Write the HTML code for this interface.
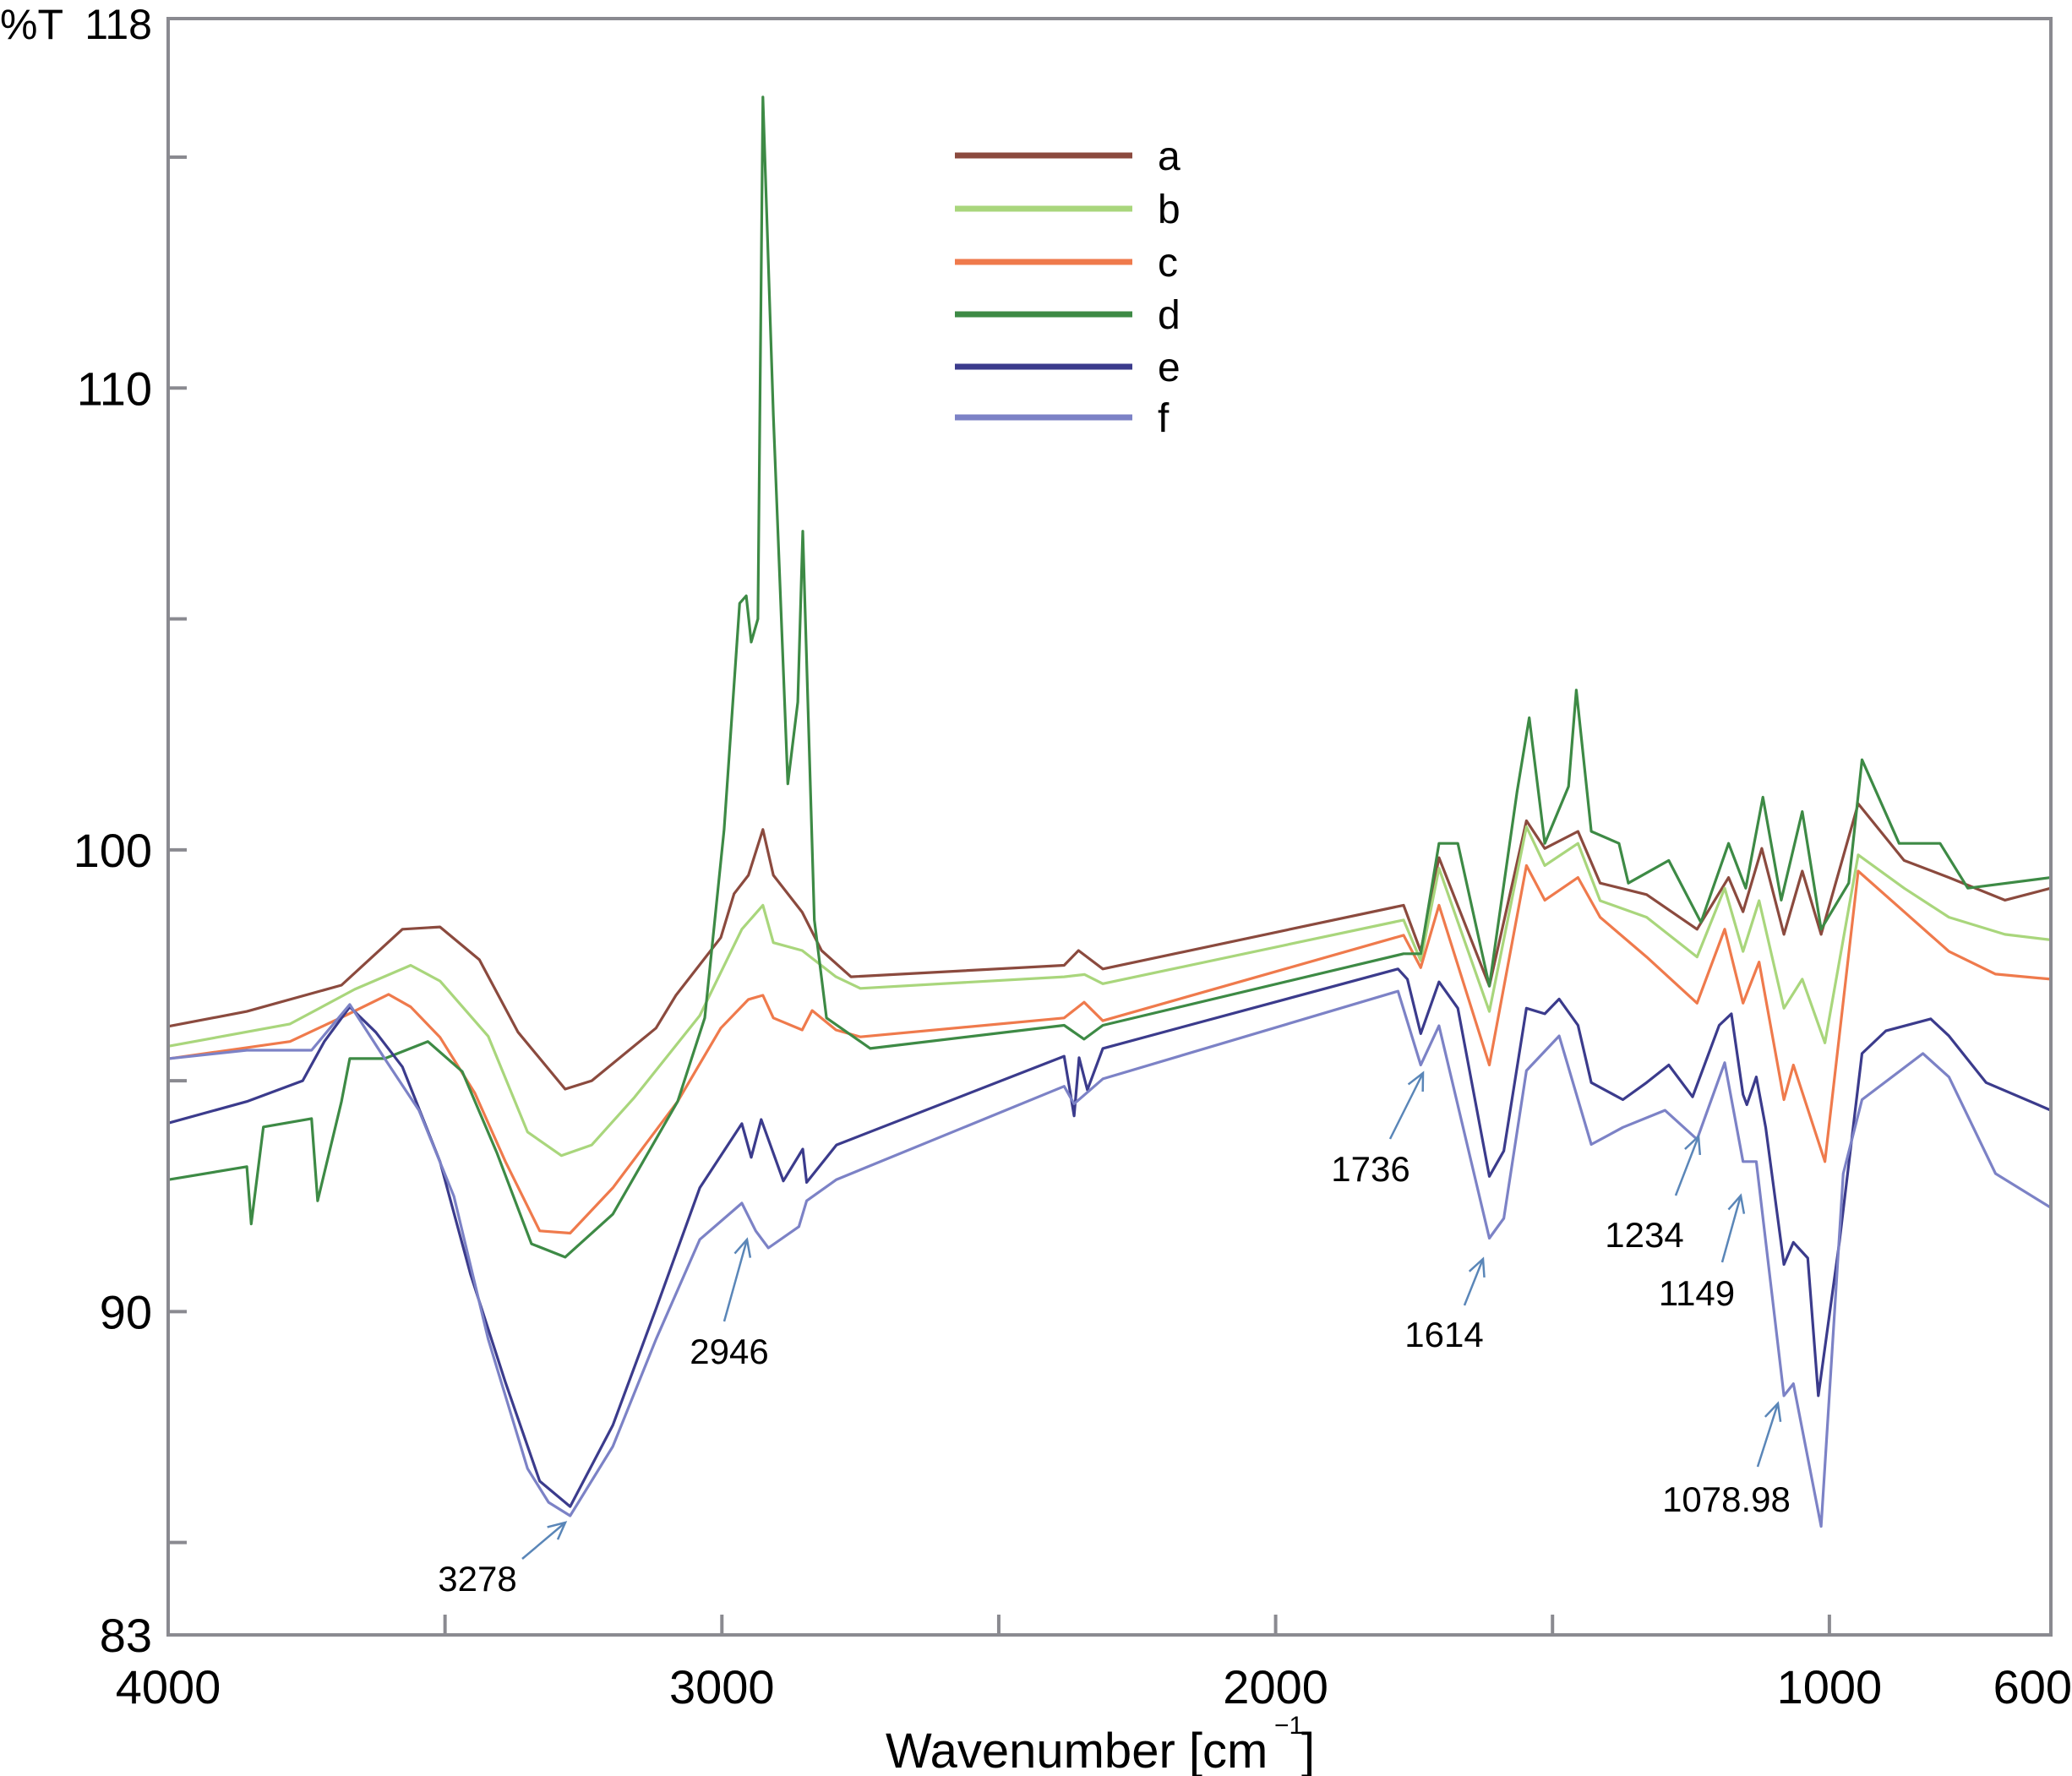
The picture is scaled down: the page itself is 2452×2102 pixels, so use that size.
<!DOCTYPE html>
<html>
<head>
<meta charset="utf-8">
<style>
  html,body{margin:0;padding:0;background:#fff;}
  svg{display:block;}
  text{font-family:"Liberation Sans",Arial,sans-serif;fill:#000;}
</style>
</head>
<body>
<svg id="chart" width="2452" height="2102" viewBox="0 0 2452 2102" xmlns="http://www.w3.org/2000/svg">
  <rect x="0" y="0" width="2452" height="2102" fill="#fff"/>
  <g id="series"></g>
  <g id="annotations"></g>
  <rect x="199" y="22" width="2228" height="1913" fill="none" stroke="#8a8a90" stroke-width="4"/>
  <g id="ticks"></g>
  <g id="ticklabels"></g>
  <text x="0" y="46" font-size="50">%T</text>
  <text x="1048" y="2092" font-size="58">Wavenumber [cm</text>
  <text x="1508" y="2052" font-size="30">−1</text>
  <text x="1540" y="2092" font-size="58">]</text>
  <g id="legend"></g>
</svg>
<script>
// ---- data (wavenumber, %T) ----
const aWn=[3998,3858,3687,3577,3509,3438,3368,3283,3235,3119,3083,3002,2978,2952,2926,2907,2855,2820,2767,2382,2356,2312,1769,1738,1705,1614,1547,1514,1454,1414,1330,1239,1182,1156,1122,1082,1049,1015,948,865,784,683,600];
const aT=[96.18,96.5,97.07,98.28,98.33,97.62,96.05,94.82,95.0,96.14,96.85,98.1,99.05,99.45,100.44,99.45,98.65,97.82,97.25,97.5,97.82,97.42,98.8,97.8,99.83,97.05,100.63,100.03,100.4,99.28,99.03,98.28,99.4,98.66,100.03,98.17,99.54,98.17,101.0,99.77,99.4,98.91,99.17];
const bWn=[3998,3780,3663,3562,3509,3422,3351,3290,3235,3158,3040,2964,2926,2907,2855,2794,2750,2382,2345,2312,1769,1738,1705,1614,1547,1514,1454,1414,1330,1239,1189,1156,1127,1082,1049,1008,948,865,784,683,600];
const bT=[95.75,96.23,96.98,97.5,97.16,95.96,93.89,93.38,93.61,94.64,96.41,98.28,98.8,97.99,97.82,97.25,97.0,97.25,97.3,97.1,98.48,97.6,99.6,96.5,100.5,99.66,100.14,98.9,98.54,97.68,99.17,97.8,98.9,96.57,97.2,95.82,99.89,99.17,98.54,98.17,98.05];
const cWn=[3998,3780,3680,3602,3562,3509,3446,3391,3329,3274,3197,3080,3002,2952,2926,2907,2855,2837,2794,2750,2382,2346,2312,1769,1738,1705,1614,1547,1514,1454,1414,1330,1239,1189,1156,1127,1082,1065,1008,948,865,784,700,600];
const cT=[95.48,95.85,96.41,96.87,96.6,95.94,94.73,93.25,91.75,91.7,92.68,94.55,96.14,96.76,96.85,96.36,96.1,96.52,96.1,95.95,96.36,96.7,96.3,98.15,97.45,98.8,95.34,99.66,98.91,99.4,98.54,97.68,96.68,98.28,96.68,97.57,94.59,95.34,93.25,99.54,98.66,97.8,97.31,97.2];
const dWn=[3998,3858,3850,3828,3741,3730,3687,3672,3609,3531,3469,3406,3344,3283,3197,3080,3031,2996,2968,2956,2947,2935,2926,2907,2881,2863,2854,2833,2811,2732,2382,2346,2312,1769,1738,1705,1671,1614,1564,1542,1514,1471,1457,1430,1380,1363,1290,1232,1182,1151,1120,1087,1049,1015,965,941,874,800,750,600];
const dT=[92.86,93.14,91.9,94.0,94.18,92.4,94.55,95.48,95.48,95.85,95.2,93.43,91.47,91.18,92.11,94.55,96.36,100.44,105.34,105.5,104.5,105.0,116.3,109.4,101.43,103.2,106.9,98.48,96.36,95.7,96.2,95.9,96.2,97.75,97.75,100.14,100.14,97.05,101.26,102.86,100.14,101.37,103.46,100.4,100.14,99.28,99.77,98.43,100.14,99.17,101.14,98.91,100.83,98.28,99.28,101.95,100.14,100.14,99.17,99.4];
const eWn=[3998,3858,3757,3718,3672,3625,3577,3509,3454,3391,3329,3274,3197,3119,3040,2964,2947,2929,2889,2854,2847,2793,2382,2364,2355,2340,2312,1779,1762,1738,1705,1671,1614,1588,1547,1514,1488,1454,1430,1373,1330,1290,1247,1199,1177,1156,1149,1132,1115,1082,1065,1039,1020,982,941,898,817,784,717,600];
const eT=[94.09,94.55,95.0,95.85,96.6,96.05,95.3,93.25,90.81,88.47,86.33,85.78,87.54,90.06,92.68,94.07,93.34,94.16,92.83,93.52,92.8,93.61,95.53,94.24,95.5,94.8,95.7,97.42,97.2,96.02,97.14,96.57,92.93,93.48,96.57,96.45,96.77,96.2,94.96,94.59,94.96,95.34,94.65,96.2,96.45,94.7,94.48,95.08,93.99,91.02,91.5,91.16,88.18,91.5,95.59,96.08,96.34,95.97,94.96,94.36];
const fWn=[3998,3858,3741,3672,3609,3547,3484,3422,3351,3313,3274,3197,3119,3040,2964,2939,2916,2861,2847,2793,2382,2364,2312,1779,1738,1705,1614,1588,1547,1488,1430,1373,1297,1239,1189,1156,1132,1082,1065,1015,975,941,831,784,700,600];
const fT=[95.48,95.66,95.66,96.65,95.48,94.36,92.5,89.4,86.6,85.87,85.58,87.08,89.4,91.56,92.35,91.75,91.38,91.84,92.4,92.86,94.88,94.5,95.04,96.94,95.34,96.19,91.59,92.02,95.22,95.97,93.62,93.99,94.36,93.73,95.39,93.25,93.25,88.18,88.44,85.35,92.99,94.59,95.59,95.08,92.99,92.25];
const seriesNames=["a","b","c","d","e","f"];
const seriesColors=["#8b4a3e","#a9d67c","#ef7a4c","#3d8a45","#3b3b8c","#7c82c6"];
const xTickValues=[3500,3000,2500,2000,1500,1000];
const xTickLabels=["4000","3000","2000","1000","600"];
const xTickLabelValues=[4000,3000,2000,1000,600];
const yTickValues=[115,110,105,100,95,90,85];
const yTickLabels=["110","100","90","83"];
const yTickLabelValues=[110,100,90,83];
const peakLabels=["3278","2946","1736","1614","1234","1149","1078.98"];

// ---- axes ----
const X0=199,X1=2427,Y0=22,Y1=1935, WMAX=4000,WMIN=600,TMAX=118,TMIN=83;
function xs(w){return X0+(WMAX-w)*(X1-X0)/(WMAX-WMIN);}
function ys(t){return Y1-(t-TMIN)*(Y1-Y0)/(TMAX-TMIN);}
const NS="http://www.w3.org/2000/svg";
function mk(tag,attrs,parent){const e=document.createElementNS(NS,tag);for(const k in attrs)e.setAttribute(k,attrs[k]);parent.appendChild(e);return e;}

// series
const sg=document.getElementById('series');
const wns=[aWn,bWn,cWn,dWn,eWn,fWn], ts=[aT,bT,cT,dT,eT,fT];
for(let s=0;s<6;s++){
  const n=Math.min(wns[s].length,ts[s].length);
  let pts=[];
  for(let i=0;i<n;i++)pts.push(xs(wns[s][i]).toFixed(1)+","+ys(ts[s][i]).toFixed(1));
  const pl=mk('polyline',{points:pts.join(" "),fill:"none",stroke:seriesColors[s],"stroke-width":3.2,"stroke-linejoin":"round"},sg);
  
  
}

// ticks
const tg=document.getElementById('ticks');
xTickValues.forEach(v=>{
  const l=mk('line',{x1:xs(v),x2:xs(v),y1:Y1,y2:Y1-24,stroke:"#8a8a90","stroke-width":4},tg);
  
  
});
yTickValues.forEach(v=>{
  const l=mk('line',{x1:X0,x2:X0+22,y1:ys(v),y2:ys(v),stroke:"#8a8a90","stroke-width":4},tg);
  
  
});

// tick labels
const lg=document.getElementById('ticklabels');
xTickLabelValues.forEach((v,i)=>{
  const last=i===xTickLabelValues.length-1;
  const t=mk('text',{x:last?2452:xs(v),y:2016,"font-size":56,"text-anchor":last?"end":"middle"},lg);
  t.textContent=xTickLabels[i];
  
  
});
yTickLabelValues.forEach((v,i)=>{
  const t=mk('text',{x:180,y:(v===TMIN?1955:ys(v)+20),"font-size":56,"text-anchor":"end"},lg);
  t.textContent=yTickLabels[i];
  
  
});
const topLabel=mk('text',{x:180,y:46,"font-size":50,"text-anchor":"end"},lg);
topLabel.textContent="118";



// legend
const leg=document.getElementById('legend');
const legY=[184,247,310,372,434,494];
seriesNames.forEach((n,i)=>{
  const l=mk('line',{x1:1130,x2:1340,y1:legY[i],y2:legY[i],stroke:seriesColors[i],"stroke-width":7},leg);
  
  
  const t=mk('text',{x:1370,y:legY[i]+17,"font-size":48},leg);
  t.textContent=n;
  
  
});

// annotations (label position, arrow from/to)
const ag=document.getElementById('annotations');
const annText=[[565,1883],[863,1614],[1622,1398],[1709,1594],[1946,1476],[2008,1545],[2043,1789]];
const annArrow=[[618,1845,669,1802],[857,1564,884,1467],[1645,1348,1684,1270],[1733,1545,1755,1490],[1983,1415,2010,1345],[2038,1494,2060,1415],[2080,1736,2104,1661]];
peakLabels.forEach((p,i)=>{
  const t=mk('text',{x:annText[i][0],y:annText[i][1],"font-size":42,"text-anchor":"middle"},ag);
  t.textContent=p;
  
  
  const [x1,y1,x2,y2]=annArrow[i];
  const ln=mk('line',{x1:x1,y1:y1,x2:x2,y2:y2,stroke:"#5a86b8","stroke-width":2.5},ag);
  
  
  const ang=Math.atan2(y2-y1,x2-x1), L=22, sp=0.45;
  const hx1=x2-L*Math.cos(ang-sp), hy1=y2-L*Math.sin(ang-sp);
  const hx2=x2-L*Math.cos(ang+sp), hy2=y2-L*Math.sin(ang+sp);
  const hd=mk('polyline',{points:hx1+","+hy1+" "+x2+","+y2+" "+hx2+","+hy2,fill:"none",stroke:"#5a86b8","stroke-width":2.5},ag);
  
  
});
</script>
</body>
</html>
